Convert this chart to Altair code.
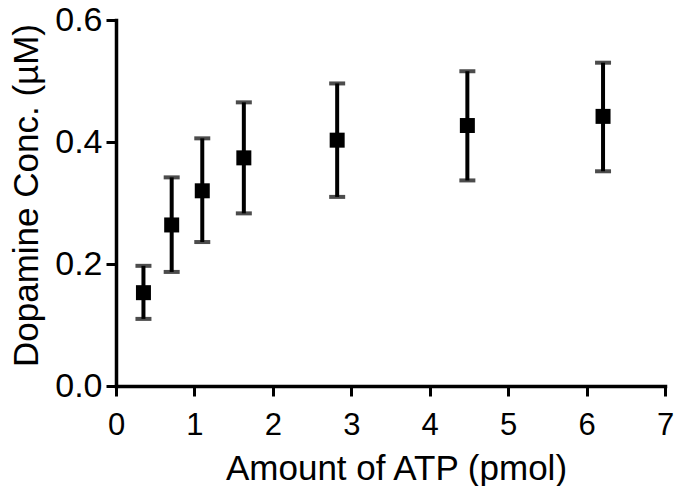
import altair as alt
import pandas as pd

atp = [0.35, 0.71, 1.10, 1.63, 2.82, 4.48, 6.21]
conc = [0.153, 0.264, 0.320, 0.374, 0.403, 0.427, 0.442]
lower = [0.110, 0.187, 0.236, 0.283, 0.310, 0.337, 0.352]
upper = [0.197, 0.342, 0.406, 0.465, 0.496, 0.516, 0.530]

df = pd.DataFrame({"atp": atp, "conc": conc, "lo": lower, "hi": upper})

FONT = "Liberation Sans"

x = alt.X("atp:Q", scale=alt.Scale(domain=[0, 7], nice=False),
          axis=alt.Axis(title="Amount of ATP (pmol)", values=[0, 1, 2, 3, 4, 5, 6, 7],
                        format="d", titleX=280, titleY=93.5, titleBaseline="alphabetic",
                        titleAlign="center", labelFontSize=31, labelPadding=14,
                        titleFontSize=35, labelFlush=False))
y_scale = alt.Scale(domain=[0, 0.6], nice=False)
y_axis = alt.Axis(title="Dopamine Conc. (µM)", values=[0, 0.2, 0.4, 0.6], format=".1f",
                  titleX=-79, titleY=175, titleBaseline="alphabetic", titleAlign="center",
                  titleAngle=270, labelFontSize=34, labelPadding=4, titleFontSize=35,
                  labelFlush=False)

base = alt.Chart(df)

bars = base.mark_rule(color="black", strokeWidth=4).encode(
    x=x, y=alt.Y("lo:Q", scale=y_scale, axis=y_axis), y2="hi:Q")
cap_lo = base.mark_tick(color="black", thickness=4, size=16, orient="horizontal").encode(
    x="atp:Q", y="lo:Q")
cap_hi = base.mark_tick(color="black", thickness=4, size=16, orient="horizontal").encode(
    x="atp:Q", y="hi:Q")
pts = base.mark_square(color="black", size=225, opacity=1, filled=True).encode(
    x="atp:Q", y="conc:Q")

chart = alt.layer(bars, cap_lo, cap_hi, pts).properties(
    width=549, height=366,
    background="white",
    autosize=alt.AutoSizeParams(type="none"),
    padding={"left": 108, "top": 12, "right": 9, "bottom": 100},
).configure_view(stroke=None).configure_axis(
    grid=False, domainColor="black", domainWidth=3.5, tickColor="black", tickWidth=3,
    tickSize=10, labelColor="black", titleColor="black", labelFont=FONT, titleFont=FONT,
    titleFontWeight="normal", domainCap="square",
)

chart.save("out.html", embed_options={"renderer": "svg", "actions": False})
